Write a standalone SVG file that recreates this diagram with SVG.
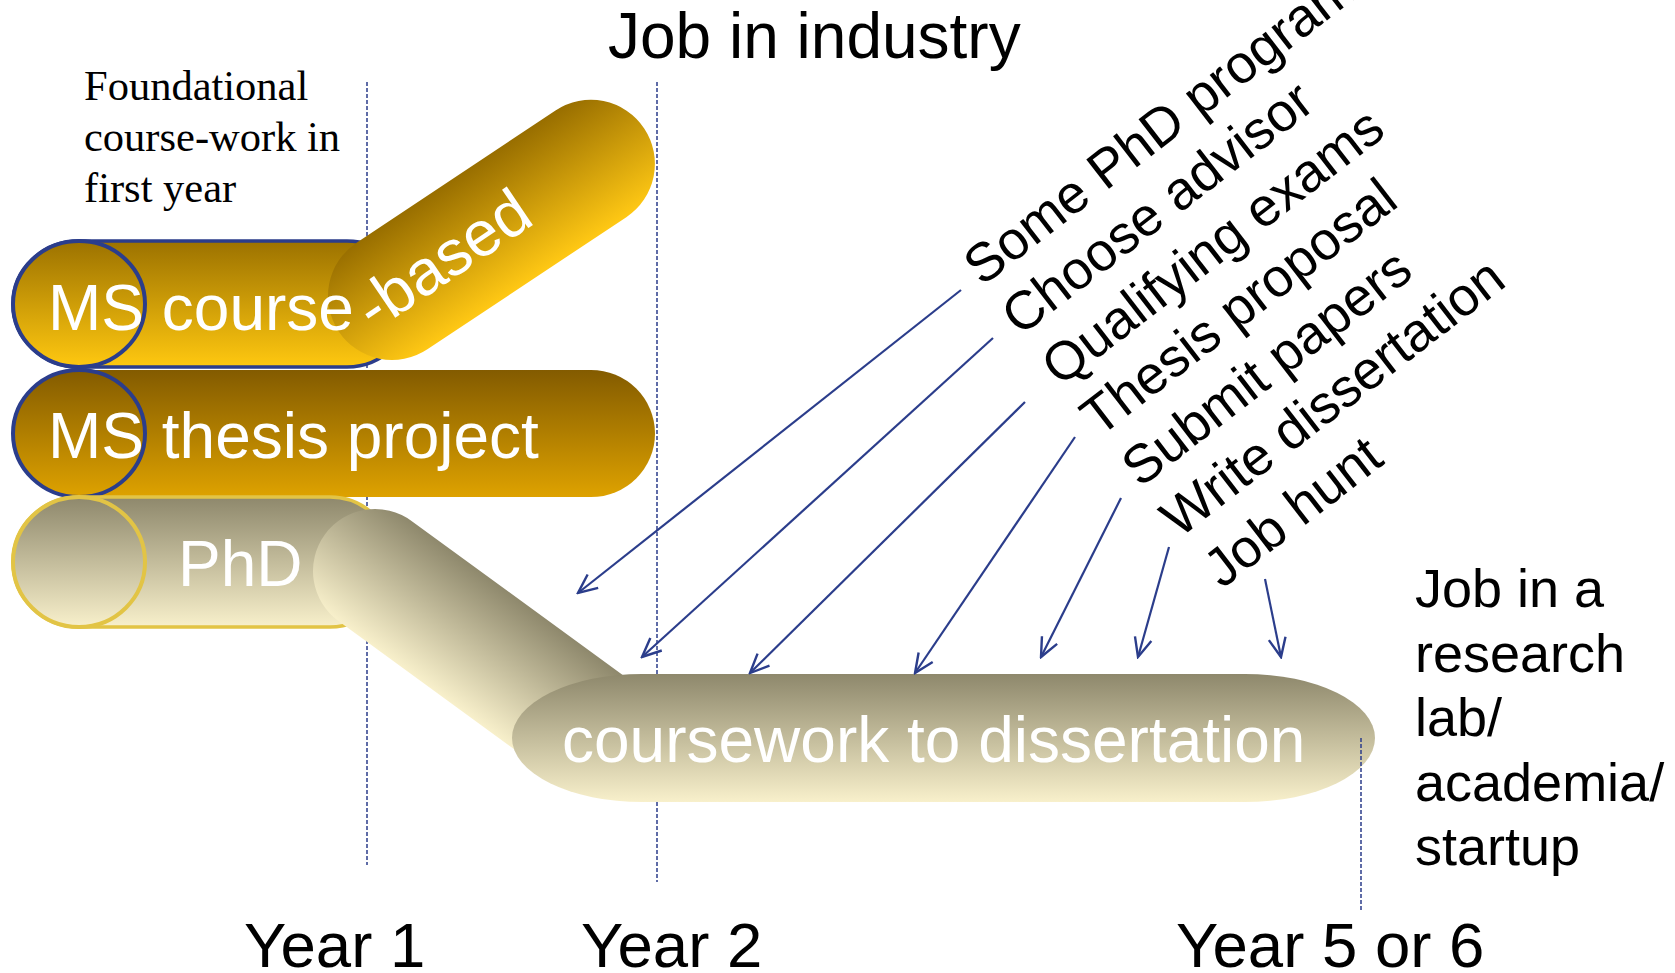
<svg xmlns="http://www.w3.org/2000/svg" width="1675" height="973" viewBox="0 0 1675 973">
<style>
.sans{font-family:"Liberation Sans",Arial,sans-serif}
.serif{font-family:"Liberation Serif","Times New Roman",serif}
.big{font-size:64px;fill:#FFFFFF}
.lbl{font-size:54px;fill:#000000}
.yr{font-size:63.5px;fill:#000000}
.dash{stroke:#2B3D8B;stroke-width:1.5;stroke-dasharray:4 2;fill:none}
.arrow{stroke:#2B3D8B;stroke-width:2.2;fill:none;marker-end:url(#arr)}
.blue{stroke:#2B3D8B}
.yel{stroke:#E2C445}
</style>
<defs>
<linearGradient id="gCourse" x1="0" y1="0" x2="0" y2="1"><stop offset="0" stop-color="#9C7200"/><stop offset="1" stop-color="#FFC810"/></linearGradient>
<linearGradient id="gBased" x1="0" y1="0" x2="0" y2="1"><stop offset="0" stop-color="#986E00"/><stop offset="1" stop-color="#FFC814"/></linearGradient>
<linearGradient id="gThesis" x1="0" y1="0" x2="0" y2="1"><stop offset="0" stop-color="#835B00"/><stop offset="1" stop-color="#DEA200"/></linearGradient>
<linearGradient id="gPhD" x1="0" y1="0" x2="0" y2="1"><stop offset="0" stop-color="#8E886C"/><stop offset="1" stop-color="#F8F0CB"/></linearGradient>
<marker id="arr" viewBox="-22 -11 24 22" refX="0" refY="0" markerWidth="24" markerHeight="22" markerUnits="userSpaceOnUse" orient="auto">
<path d="M-19,-8.5 L0,0 L-19,8.5" fill="none" stroke="#2B3D8B" stroke-width="2.4"/>
</marker>
</defs>
<rect width="1675" height="973" fill="#FFFFFF"/>

<g id="gridlines">
<line class="dash" x1="367" y1="82" x2="367" y2="865"/>
<line class="dash" x1="657" y1="82" x2="657" y2="882"/>
</g>

<g id="ms-course">
<path d="M79,241 H347 A64,63 0 0 1 347,367 H79 A66,63 0 0 1 79,241 Z" fill="url(#gCourse)" class="blue" stroke-width="3.5"/>
<ellipse cx="79" cy="304" rx="66" ry="63" fill="url(#gCourse)" class="blue" stroke-width="4"/>
</g>
<g id="ms-course-based" transform="translate(392,296) rotate(-33.6)">
<rect x="-64" y="-64" width="366.8" height="128" rx="64" ry="64" fill="url(#gBased)"/>
</g>

<g id="ms-thesis">
<path d="M79,370 H591 A64,63.5 0 0 1 591,497 H79 A66,63.5 0 0 1 79,370 Z" fill="url(#gThesis)"/>
<ellipse cx="79" cy="433.5" rx="66" ry="63.5" fill="url(#gThesis)" class="blue" stroke-width="4"/>
</g>

<g id="phd">
<path d="M79,497 H330 A64,65 0 0 1 330,627 H79 A66,65 0 0 1 79,497 Z" fill="url(#gPhD)" class="yel" stroke-width="3.5"/>
<ellipse cx="79" cy="562" rx="66" ry="65" fill="url(#gPhD)" class="yel" stroke-width="4"/>
</g>
<g id="phd-diagonal" transform="translate(375,571) rotate(36.1)">
<path d="M0,-62 H280 V62 H0 A62,62 0 0 1 0,-62 Z" fill="url(#gPhD)"/>
</g>
<g id="coursework-dissertation">
<rect x="512" y="674" width="863" height="128" rx="130" ry="64" fill="url(#gPhD)"/>
</g>

<g id="gridline-end">
<line class="dash" x1="1361" y1="738" x2="1361" y2="912"/>
</g>

<g id="connectors">
<line class="arrow" x1="961" y1="290" x2="578" y2="593"/>
<line class="arrow" x1="993" y1="338" x2="642" y2="657"/>
<line class="arrow" x1="1025" y1="402" x2="750" y2="673"/>
<line class="arrow" x1="1075" y1="437" x2="915" y2="673"/>
<line class="arrow" x1="1121" y1="498" x2="1041" y2="657"/>
<line class="arrow" x1="1169" y1="547" x2="1138" y2="657"/>
<line class="arrow" x1="1265" y1="579" x2="1281" y2="657"/>
</g>

<g id="capsule-labels" class="sans">
<text class="big" x="48" y="330">MS course</text>
<text class="big" transform="translate(374,332) rotate(-34)">-based</text>
<text class="big" x="48" y="458">MS thesis project</text>
<text class="big" x="178" y="586">PhD</text>
<text class="big" x="562" y="762">coursework to dissertation</text>
</g>

<g id="milestones" class="sans">
<text class="lbl" transform="translate(982,287) rotate(-37.7)">Some PhD program</text>
<text class="lbl" transform="translate(1020,337) rotate(-37.7)">Choose advisor</text>
<text class="lbl" transform="translate(1060,387.5) rotate(-37.7)">Qualifying exams</text>
<text class="lbl" transform="translate(1099,438) rotate(-37.7)">Thesis proposal</text>
<text class="lbl" transform="translate(1140,488.5) rotate(-37.7)">Submit papers</text>
<text class="lbl" transform="translate(1179,539) rotate(-37.7)">Write dissertation</text>
<text class="lbl" transform="translate(1222,589.5) rotate(-37.7)">Job hunt</text>
</g>

<g id="notes">
<text class="serif" font-size="42.5" fill="#000000"><tspan x="84" y="100">Foundational</tspan><tspan x="84" y="151">course-work in</tspan><tspan x="84" y="202">first year</tspan></text>
<text class="sans" x="608" y="58" font-size="64" fill="#000000">Job in industry</text>
<text class="sans" font-size="54" fill="#000000"><tspan x="1415" y="607">Job in a</tspan><tspan x="1415" y="671.5">research</tspan><tspan x="1415" y="736">lab/</tspan><tspan x="1415" y="800.5">academia/</tspan><tspan x="1415" y="865">startup</tspan></text>
</g>

<g id="years" class="sans">
<text class="yr" x="244" y="967">Year 1</text>
<text class="yr" x="581" y="967">Year 2</text>
<text class="yr" x="1176" y="967">Year 5 or 6</text>
</g>
</svg>
